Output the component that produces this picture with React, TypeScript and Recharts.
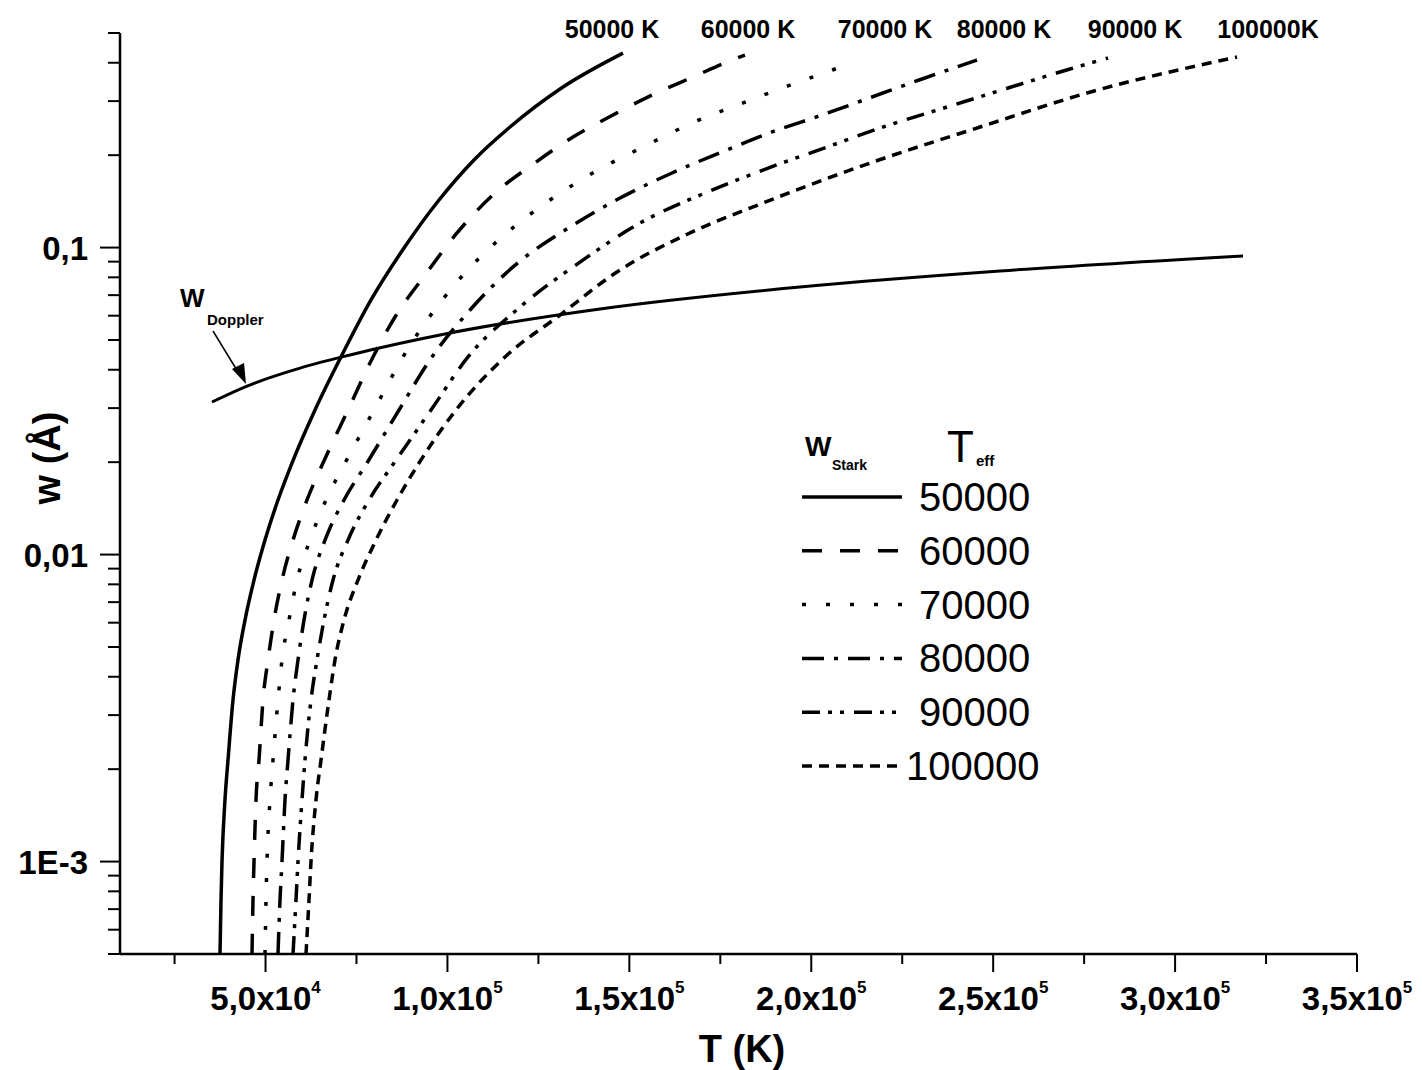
import { LineChart, Line, XAxis, YAxis } from 'recharts';

// [T (K), w (Å)]
const stark50000: [number, number][] = [
  [37486, 0.0005], [37761, 0.00075], [38036, 0.001], [38860, 0.00159], [39685, 0.00214],
  [41059, 0.00336], [42433, 0.00454], [44358, 0.00612], [46831, 0.00826], [49855, 0.01115],
  [53428, 0.01506], [57276, 0.01987], [63598, 0.02958], [70744, 0.04403], [78990, 0.0675],
  [88060, 0.0997], [97680, 0.1429], [107300, 0.193], [117195, 0.247], [131763, 0.3334], [148255, 0.43],
];
const stark60000: [number, number][] = [
  [46282, 0.0005], [46557, 0.00075], [46831, 0.001], [47381, 0.00159], [48206, 0.00214],
  [49305, 0.00336], [50679, 0.00454], [52328, 0.00612], [54527, 0.00826], [57551, 0.01115],
  [61399, 0.01506], [65797, 0.01987], [72668, 0.02958], [79540, 0.04403], [85587, 0.0594],
  [93832, 0.0814], [102628, 0.1116], [113073, 0.1506], [123242, 0.1858], [134511, 0.2292],
  [145506, 0.2703], [156226, 0.3141], [167495, 0.3595], [178215, 0.4083], [181788, 0.4238],
];
const stark70000: [number, number][] = [
  [49855, 0.0005], [50130, 0.00075], [50404, 0.001], [51229, 0.00159], [52054, 0.00214],
  [53428, 0.00336], [54527, 0.00454], [56451, 0.00612], [58650, 0.00826], [62223, 0.01115],
  [66621, 0.01506], [71844, 0.01987], [79814, 0.02958], [87785, 0.04403], [102628, 0.0773],
  [114997, 0.1083], [128190, 0.1429], [141383, 0.1789], [153752, 0.2126], [167220, 0.2545],
  [180413, 0.2935], [193607, 0.3361], [207350, 0.3846],
];
const stark80000: [number, number][] = [
  [53428, 0.0005], [53978, 0.00075], [54527, 0.001], [55352, 0.00159], [56176, 0.00214],
  [57551, 0.00336], [58925, 0.00454], [60574, 0.00612], [62773, 0.00826], [66346, 0.01115],
  [71569, 0.01506], [77890, 0.01987], [86686, 0.02958], [95756, 0.04403], [106201, 0.0626],
  [118020, 0.0865], [133687, 0.1167], [147430, 0.145], [161723, 0.175], [175466, 0.2049],
  [189209, 0.238], [202952, 0.2703], [216695, 0.3094], [230438, 0.3541], [245555, 0.4083],
];
const stark90000: [number, number][] = [
  [57551, 0.0005], [58376, 0.00075], [58925, 0.001], [60025, 0.00159], [60849, 0.00214],
  [62498, 0.00336], [64147, 0.00454], [66071, 0.00612], [68545, 0.00826], [72668, 0.01115],
  [78440, 0.01506], [85312, 0.01987], [95481, 0.02958], [105651, 0.04403], [119944, 0.064],
  [136436, 0.0897], [152927, 0.1202], [170793, 0.1506], [186735, 0.1789], [204326, 0.2126],
  [220542, 0.2489], [237309, 0.287], [254075, 0.3309], [271117, 0.3817], [281561, 0.4145],
];
const stark100000: [number, number][] = [
  [61124, 0.0005], [61948, 0.00075], [62498, 0.001], [63873, 0.00159], [65247, 0.00214],
  [67446, 0.00336], [69096, 0.00454], [71569, 0.00612], [75417, 0.00826], [80364, 0.01115],
  [86136, 0.01506], [92183, 0.01987], [102353, 0.02958], [115821, 0.04403], [130938, 0.0603],
  [146605, 0.0833], [166670, 0.1116], [186735, 0.1397], [216970, 0.19], [246380, 0.247],
  [275790, 0.3188], [317019, 0.4176],
];
const doppler: [number, number][] = [
  [35287, 0.0314], [44907, 0.0354], [59475, 0.0405], [73218, 0.0447], [100704, 0.0527],
  [141933, 0.0631], [196905, 0.0744], [251877, 0.0839], [318668, 0.0939],
];

const teffLabels = ['50000', '60000', '70000', '80000', '90000', '100000'];
const topLabels = ['50000 K', '60000 K', '70000 K', '80000 K', '90000 K', '100000K'];

const xTicks = [25000, 50000, 75000, 100000, 125000, 150000, 175000, 200000, 225000, 250000, 275000, 300000, 325000, 350000];
const xTickLabels: Record<number, [string, string]> = {
  50000: ['5,0x10', '4'],
  100000: ['1,0x10', '5'],
  150000: ['1,5x10', '5'],
  200000: ['2,0x10', '5'],
  250000: ['2,5x10', '5'],
  300000: ['3,0x10', '5'],
  350000: ['3,5x10', '5'],
};
const yTicks = [
  0.0005, 0.0006, 0.0007, 0.0008, 0.0009, 0.001, 0.002, 0.003, 0.004, 0.005, 0.006, 0.007, 0.008, 0.009,
  0.01, 0.02, 0.03, 0.04, 0.05, 0.06, 0.07, 0.08, 0.09, 0.1, 0.2, 0.3, 0.4, 0.5,
];
const yTickLabels: Record<string, string> = { '0.001': '1E-3', '0.01': '0,01', '0.1': '0,1' };

const FONT = '"Liberation Sans", Arial, sans-serif';
const dashes = ['', '20 18', '4 20', '22 10 4 10', '18 8 4 8 4 10', '10 7'];
const series = [stark50000, stark60000, stark70000, stark80000, stark90000, stark100000];

const toPts = (arr: [number, number][]) => arr.map(([T, w]) => ({ T, w }));

const XTick = (props: any) => {
  const { x, y, payload } = props;
  const lab = xTickLabels[payload.value];
  const major = !!lab;
  return (
    <g>
      <line x1={x} x2={x} y1={y} y2={y + (major ? 18 : 10)} stroke="#000" strokeWidth={2} />
      {lab && (
        <text x={x} y={y + 56} textAnchor="middle" fontFamily={FONT} fontWeight="bold" fontSize={33} fill="#000">
          {lab[0]}
          <tspan dy={-17} fontSize={17}>{lab[1]}</tspan>
        </text>
      )}
    </g>
  );
};

const YTick = (props: any) => {
  const { x, y, payload } = props;
  const lab = yTickLabels[String(payload.value)];
  return (
    <g>
      <line x1={x} x2={x - (lab ? 20 : 12)} y1={y} y2={y} stroke="#000" strokeWidth={2} />
      {lab && (
        <text x={88} y={y + 12} textAnchor="end" fontFamily={FONT} fontWeight="bold" fontSize={33} fill="#000">
          {lab}
        </text>
      )}
    </g>
  );
};

export default function App() {
  const topX = [612, 748, 885, 1004, 1135, 1268];
  return (
    <div style={{ position: 'absolute', left: 0, top: 0, width: 1422, height: 1070, background: '#fff' }}>
      <LineChart width={1422} height={1070} margin={{ top: 33, right: 65, bottom: 0, left: 0 }}>
        <XAxis
          type="number"
          dataKey="T"
          domain={[10000, 350000]}
          allowDataOverflow
          ticks={xTicks}
          interval={0}
          tickSize={0}
          tickMargin={0}
          tickLine={false}
          tick={<XTick />}
          height={116}
          axisLine={{ stroke: '#000', strokeWidth: 2.5 }}
        />
        <YAxis
          type="number"
          scale="log"
          domain={[0.0005, 0.5]}
          allowDataOverflow
          ticks={yTicks}
          interval={0}
          tickSize={0}
          tickMargin={0}
          tickLine={false}
          tick={<YTick />}
          width={120}
          axisLine={{ stroke: '#000', strokeWidth: 2.5 }}
        />
        {series.map((s, i) => (
          <Line
            key={teffLabels[i]}
            data={toPts(s)}
            dataKey="w"
            type="monotone"
            stroke="#000"
            strokeWidth={3.5}
            strokeDasharray={dashes[i] || undefined}
            dot={false}
            activeDot={false}
            isAnimationActive={false}
          />
        ))}
        <Line
          data={toPts(doppler)}
          dataKey="w"
          type="monotone"
          stroke="#000"
          strokeWidth={3}
          dot={false}
          activeDot={false}
          isAnimationActive={false}
        />
      </LineChart>
      <svg width={1422} height={1070} style={{ position: 'absolute', left: 0, top: 0, pointerEvents: 'none' }}>
        {/* axis titles */}
        <text x={742} y={1062} textAnchor="middle" fontFamily={FONT} fontWeight="bold" fontSize={38}>T (K)</text>
        <text transform="translate(60,458) rotate(-90)" textAnchor="middle" fontFamily={FONT} fontWeight="bold" fontSize={38}>w (Å)</text>
        {/* curve end labels */}
        {topLabels.map((t, i) => (
          <text key={t} x={topX[i]} y={38} textAnchor="middle" fontFamily={FONT} fontWeight="bold" fontSize={25}>{t}</text>
        ))}
        {/* Doppler annotation */}
        <text x={180} y={307} fontFamily={FONT} fontWeight="bold" fontSize={26}>W</text>
        <text x={207} y={325} fontFamily={FONT} fontWeight="bold" fontSize={15}>Doppler</text>
        <line x1={213} y1={331} x2={238} y2={372} stroke="#000" strokeWidth={1.5} />
        <polygon points="232,369 244,363 246,384" fill="#000" />
        {/* legend */}
        <text x={805} y={456} fontFamily={FONT} fontWeight="bold" fontSize={28}>W</text>
        <text x={832} y={470} fontFamily={FONT} fontWeight="bold" fontSize={14}>Stark</text>
        <text x={947} y={462} fontFamily={FONT} fontSize={44}>T</text>
        <text x={976} y={466} fontFamily={FONT} fontWeight="bold" fontSize={15}>eff</text>
        {teffLabels.map((t, i) => {
          const cy = 497 + i * 53.8;
          return (
            <g key={t}>
              <line x1={802} x2={902} y1={cy} y2={cy} stroke="#000" strokeWidth={3.5} strokeDasharray={dashes[i] || undefined} />
              <text x={t.length > 5 ? 906 : 919} y={cy + 14} fontFamily={FONT} fontSize={40}>{t}</text>
            </g>
          );
        })}
      </svg>
    </div>
  );
}
